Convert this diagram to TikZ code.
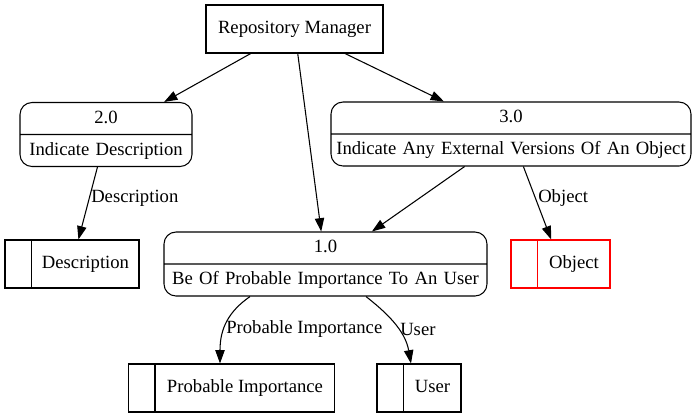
\documentclass[tikz,border=0pt]{standalone}
\usepackage{fontspec}
\setmainfont{Liberation Serif}
\usepackage{tikz}
\usetikzlibrary{arrows.meta,calc,shapes.multipart}
\definecolor{storered}{HTML}{FF0000}
\tikzset{
  entity/.style  = {rectangle, draw, line width=0.8pt, minimum width=132.75pt, minimum height=36pt,
                    inner sep=0pt},
  proc/.style    = {rectangle split, rectangle split parts=2, draw, rounded corners=9pt,
                    line width=0.8pt, text width=#1, align=center, inner xsep=0pt, inner ysep=3.1pt},
  store/.style   = {rectangle, draw=#1, line width=0.8pt, minimum height=36pt, inner sep=0pt},
  store/.default = black,
  flow/.style    = {-{Triangle[length=10pt,width=7pt]}, line width=0.8pt},
  tag/.style     = {anchor=west, inner sep=0pt},
}

\begin{document}
\begin{tikzpicture}[x=0.75pt, y=-0.75pt, font=\fontsize{14}{17}\selectfont]
  \useasboundingbox (0,0) rectangle (697,419);

  %% ---- entity and processes -----------------------------------------------------------
  \node[entity] (rm) at (294.5,29) {Repository Manager};
  \node[proc=129pt] (p2) at (106,134.5) {\strut 2.0\nodepart{two}\strut Indicate Description};
  \node[proc=270pt] (p3) at (511,134) {\strut 3.0\nodepart{two}\strut Indicate Any External Versions Of An Object};
  \node[proc=242.25pt] (p1) at (325.5,264) {\strut 1.0\nodepart{two}\strut Be Of Probable Importance To An User};

  %% ---- data stores: open left cell, label on the right ---------------------------------
  \foreach \n/\x/\y/\w/\c/\lbl in {dsc/72/264/80.25/black/Description, obj/560.5/264/54/storered/Object,
                                   pim/231.5/388/134.25/black/Probable Importance, usr/419/388/42.75/black/User} {
    \node[store=\c] (\n) at (\x,\y) {\hspace*{20.25pt}\makebox[\w pt]{\strut \lbl}};
    \draw[draw=\c, line width=0.8pt] ($(\n.north west)+(27,0)$) -- ($(\n.south west)+(27,0)$);
  }

  %% ---- flows ----------------------------------------------------------------------------
  \draw[flow] (rm) -- (p2);
  \draw[flow] (rm) -- (p1);
  \draw[flow] (rm) -- (p3);
  \draw[flow] (p2) -- (dsc);
  \draw[flow] (p3) -- (p1);
  \draw[flow] (p3) -- (obj);
  \draw[flow] ($(p1.south)+(-75.5,0)$) .. controls ($(p1.south)+(-97,15)$) and ($(pim.north)+(-11.5,-35)$)
    .. ($(pim.north)+(-11.5,0)$);
  \draw[flow] ($(p1.south)+(40.5,0)$) .. controls ($(p1.south)+(59.5,15)$) and ($(usr.north)+(-14,-34)$)
    .. ($(usr.north)+(-8,0)$);

  % flow labels
  \node[tag] (lDsc) at (91,198) {Description};
  \node[tag] (lObj) at (538,198) {Object};
  \node[tag] (lPim) at (226,329) {Probable Importance};
  \node[tag] (lUsr) at (400,329) {User};
\end{tikzpicture}
\end{document}
